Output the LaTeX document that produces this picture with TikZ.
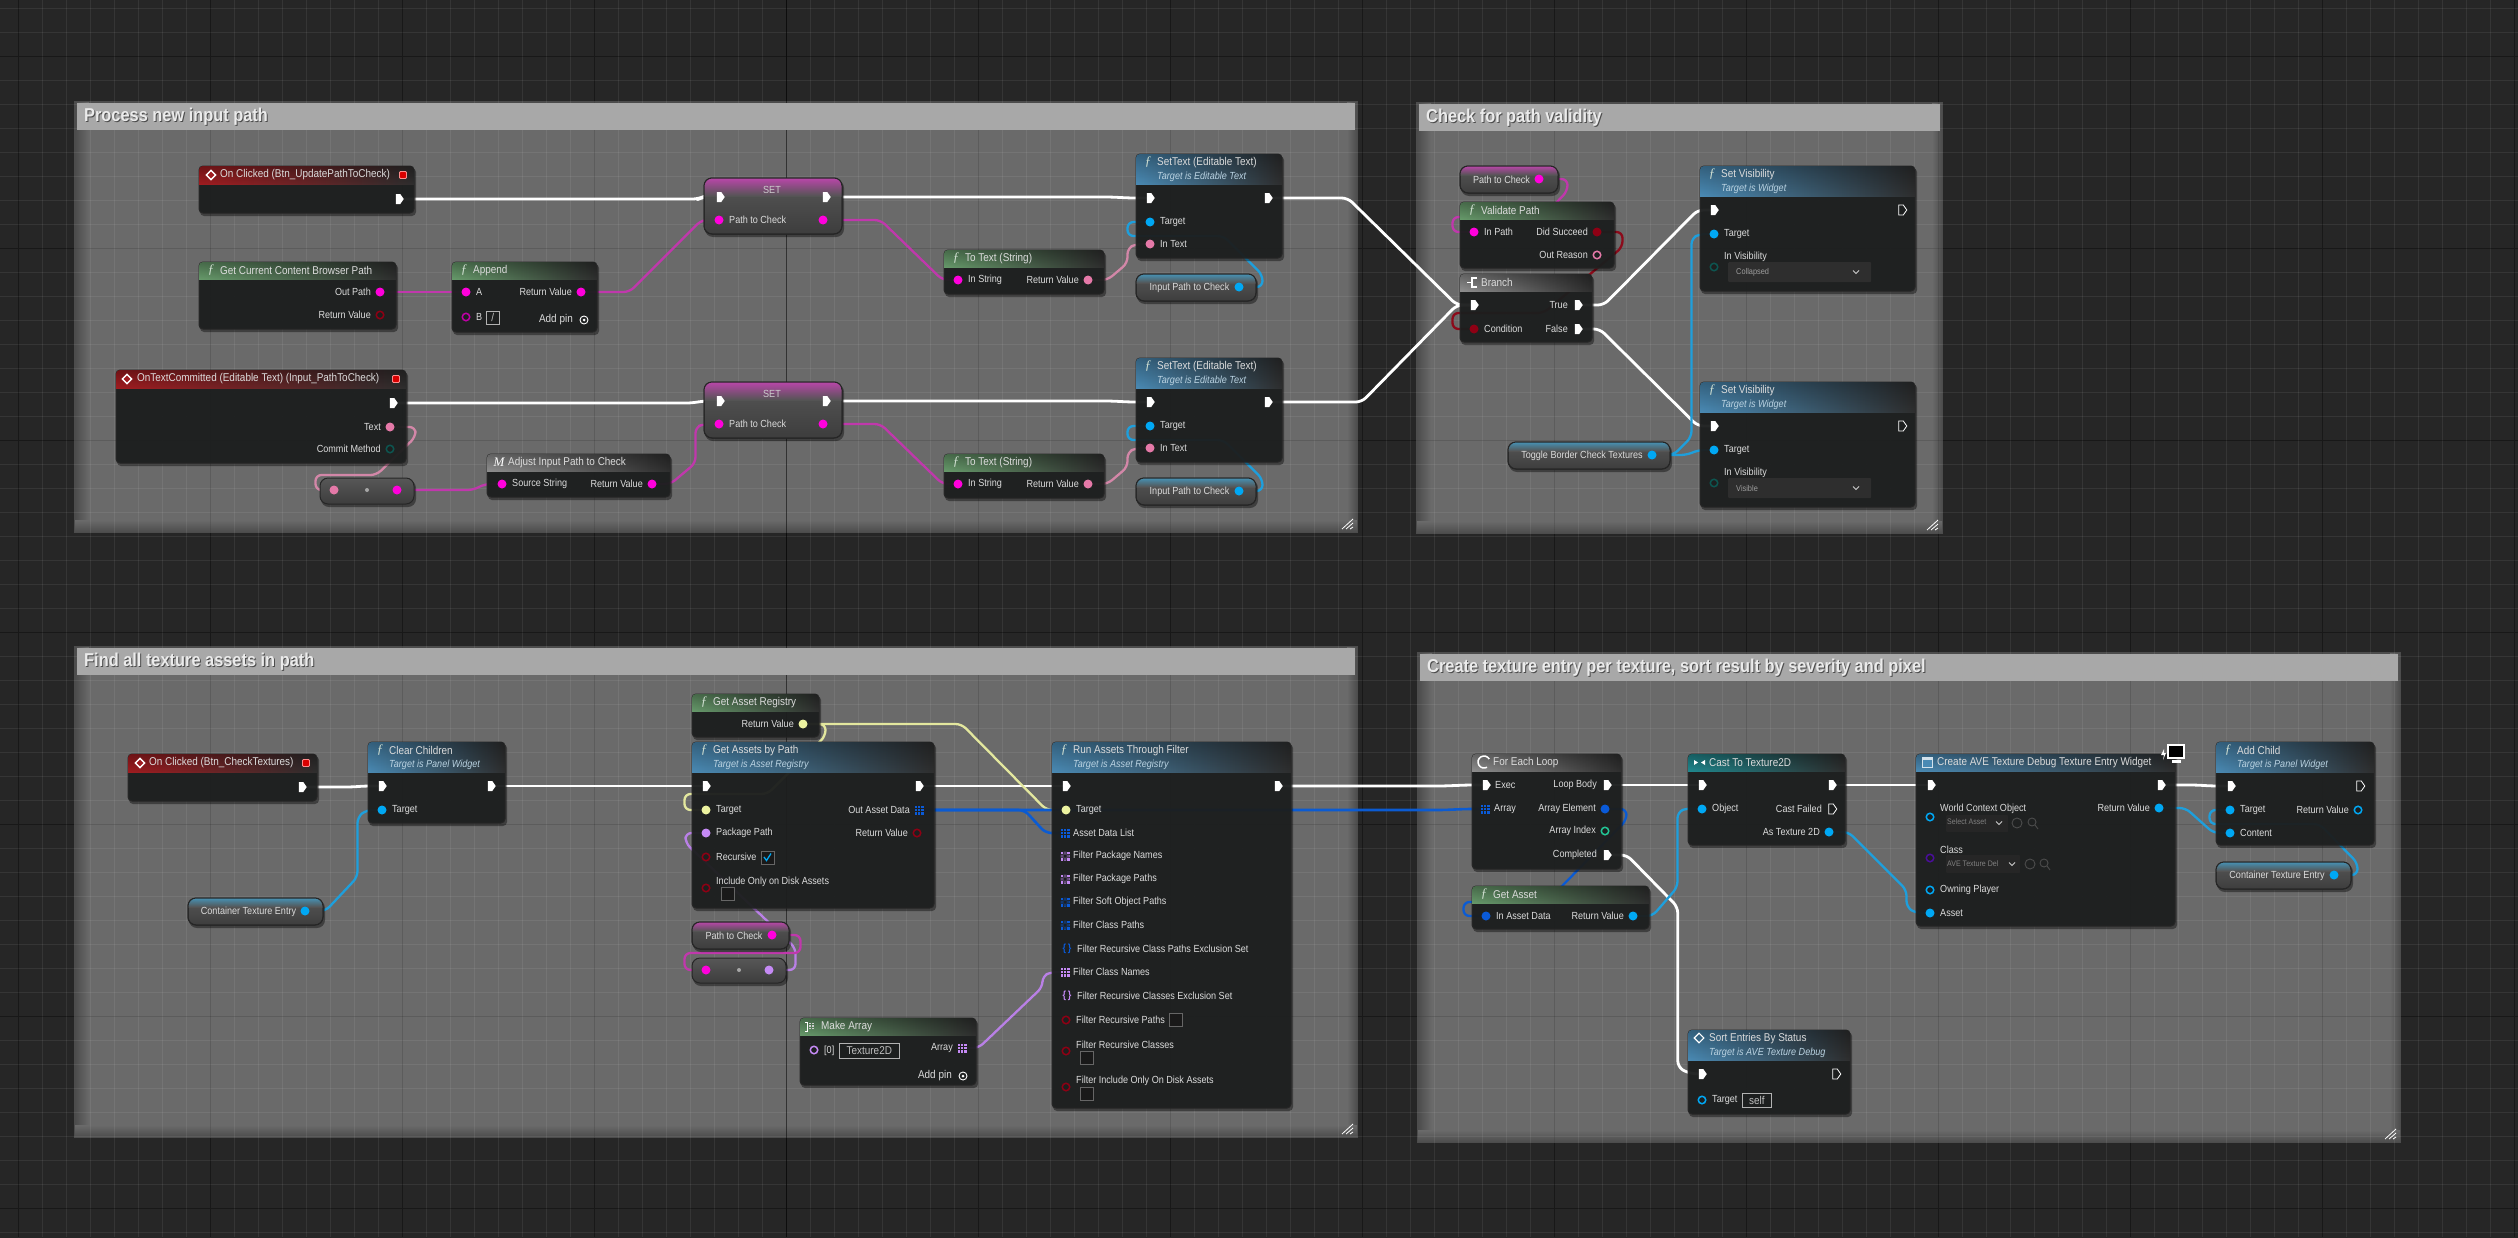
\documentclass[tikz,border=0pt]{standalone}
\usepackage{fontspec}
\usepackage{xcolor}
\usepackage{tikz}
\usetikzlibrary{calc,shapes.geometric,shapes.symbols,fadings}

\setmainfont[FakeStretch=.88]{Liberation Sans}
\newfontfamily\iconfont{Liberation Serif}
\newcommand{\lblfont}{\fontsize{10.3}{11}\selectfont}
\newcommand{\ttlfont}{\fontsize{11.3}{12}\selectfont}
\newcommand{\cmtfont}{\fontsize{18.6}{20}\selectfont\bfseries}

\definecolor{bgdark}{HTML}{262626}
\definecolor{cmtfill}{HTML}{6A6A6A}
\definecolor{cmtshade}{HTML}{4C4C4C}
\definecolor{cmtbar}{HTML}{A8A8A8}
\definecolor{nodebg}{HTML}{1D1F1F}
\definecolor{lbltxt}{HTML}{DCDCDC}
\definecolor{hdrred}{HTML}{A01C20}
\definecolor{hdrgreen}{HTML}{66996A}
\definecolor{hdrblue}{HTML}{4A8AB4}
\definecolor{hdrgray}{HTML}{8E8E8E}
\definecolor{hdrteal}{HTML}{1F888E}
\definecolor{pstr}{HTML}{FF00DC}
\definecolor{ptxt}{HTML}{E579A8}
\definecolor{pobj}{HTML}{00A8F4}
\definecolor{pstruct}{HTML}{0A5AD8}
\definecolor{pyel}{HTML}{EDF3A0}
\definecolor{ppur}{HTML}{C58AF5}
\definecolor{pbool}{HTML}{8E0014}
\definecolor{pteal}{HTML}{0D5550}
\definecolor{pgrn}{HTML}{22C596}
\definecolor{pclass}{HTML}{4A0E9A}
\definecolor{wstr}{HTML}{C038AC}
\definecolor{wtxt}{HTML}{D387A8}
\definecolor{wobj}{HTML}{1E9FDC}
\definecolor{wyel}{HTML}{E3E79E}
\definecolor{wpur}{HTML}{B980E6}
\definecolor{wbool}{HTML}{8C0A1A}
\definecolor{wstruct}{HTML}{0B5BD2}

\pgfdeclarelayer{backdrop}
\pgfdeclarelayer{wires}
\pgfsetlayers{backdrop,wires,main}

\tikzset{
    cmtbody/.style={fill=cmtfill, draw=cmtshade, line width=2, inner sep=0, outer sep=0, anchor=north west},
    cmttitle/.style={font=\cmtfont, text=#1, inner sep=0, anchor=west},
    bpbody/.style={fill=nodebg, fill opacity=.93, draw=black!85, line width=1, rounded corners=4, inner sep=0, outer sep=0, anchor=north west},
    bptitle/.style={font=\ttlfont, text=lbltxt, inner sep=0, anchor=west},
    bpsub/.style={font=\lblfont\itshape, text=white!62!hdrblue, inner sep=0, anchor=west},
    lbl/.style={font=\lblfont, text=lbltxt, inner sep=0},
    pin/.style={circle, fill=#1, minimum size=9, inner sep=0, outer sep=0},
    pinoff/.style={circle, draw=#1, fill=nodebg, line width=1.5, minimum size=7.5, inner sep=0, outer sep=0},
    execpin/.style={shape=signal, signal to=east, signal from=nowhere, signal pointer angle=110, fill=white, minimum width=8, minimum height=10, inner sep=0, outer sep=0},
    execoff/.style={execpin, fill=nodebg, draw=white, line width=.8},
    arrbase/.style={rectangle, fill=#1, minimum size=9, inner sep=0, outer sep=0},
    setpin/.style={font=\bfseries\lblfont, text=#1, inner sep=0},
    evicon/.style={diamond, draw=white, fill=hdrred, line width=1.4, minimum size=10, inner sep=0},
    closeicon/.style={rectangle, rounded corners=1, fill=red!85!black, draw=red!45!white, line width=.8, minimum size=7, inner sep=0},
    fnicon/.style={font=\iconfont\itshape\fontsize{13}{13}\selectfont, text=white!70!hdrgreen, inner sep=0},
    chkbox/.style={rectangle, fill=black!90, draw=black!60, line width=.6, minimum size=13, inner sep=0, anchor=north west},
    txtbox/.style={rectangle, draw=white!70!black, fill=nodebg, line width=.6, font=\ttlfont, text=white!75!black, inner sep=0, anchor=north west},
    dropbox/.style={rectangle, fill=black!82, rounded corners=1, inner sep=0, anchor=north west},
    addring/.style={circle, draw=white, line width=.9, minimum size=8, inner sep=0},
    convbody/.style={top color=black!66, bottom color=black!76, draw=black!85, line width=1, rounded corners=8, inner sep=0, outer sep=0, anchor=north west},
    wire/.style={line width=2.3, rounded corners=6, line join=round},
    execw/.style={wire, draw=white, line width=2.8},
    strw/.style={wire, draw=wstr},
    txtw/.style={wire, draw=wtxt},
    objw/.style={wire, draw=wobj},
    yelw/.style={wire, draw=wyel},
    purw/.style={wire, draw=wpur},
    boolw/.style={wire, draw=wbool},
    structw/.style={wire, draw=wstruct, line width=2.6},
}

\newcommand{\cmtbox}[5]{%
    \node (#1) [cmtbody, minimum width={#4-#2}, minimum height={#5-#3}] at (#2, #3) {};
    \shade[left color=cmtshade, right color=cmtfill] (#2, #3) rectangle (#2+14, #5);
    \shade[right color=cmtshade, left color=cmtfill] (#4-10, #3) rectangle (#4, #5);
    \shade[bottom color=cmtshade, top color=cmtfill] (#2, #5-12) rectangle (#4, #5);
}
\newcommand{\cmtbarline}[6]{%
    \fill[cmtbar] (#2+2, #3+1) rectangle (#4-2, #3+28);
    \node (#1s) [cmttitle=black!70] at (#2+10, #3+16) {#6};
    \node (#1t) [cmttitle=white!92!black] at (#2+9, #3+15) {#6};
    \draw[white, line width=.8] (#4-15, #5-3) -- (#4-4, #5-13) (#4-11, #5-3) -- (#4-4, #5-9) (#4-7, #5-3) -- (#4-4, #5-5);
}
\newcommand{\bpnode}[9]{%
    \fill[black, opacity=.4, rounded corners=4] (#2+1, #3+2) rectangle (#4+2, #5+3);
    \node (#1) [bpbody, minimum width={#4-#2}, minimum height={#5-#3}] at (#2, #3) {};
    \begin{scope}
        \clip[rounded corners=4] (#2, #3) rectangle (#4, #5);
        \shade[left color=#7, middle color=#7!62!black, right color=black!82] (#2, #3) rectangle (#4, #6);
        \fill[black, opacity=.3, path fading=south] (#2, #3) rectangle (#4, #6);
    \end{scope}
    \node (#1t) [bptitle] at (#2+21, #3+8.5) {#8};
    \node (#1s) [bpsub] at (#2+21, #3+23) {#9};
}
\newcommand{\inpin}[5]{%
    \node (#1) [#4] at (#2, #3) {};
    \node (#1l) [lbl, anchor=west] at (#2+10, #3) {#5};
}
\newcommand{\outpin}[5]{%
    \node (#1) [#4] at (#2, #3) {};
    \node (#1l) [lbl, anchor=east] at (#2-9, #3) {#5};
}
\newcommand{\arrpin}[4]{%
    \node (#1) [arrbase=#4] at (#2, #3) {};
    \draw[nodebg, line width=.6] (#2-1.5, #3-4.5) -- (#2-1.5, #3+4.5) (#2+1.5, #3-4.5) -- (#2+1.5, #3+4.5) (#2-4.5, #3-1.5) -- (#2+4.5, #3-1.5) (#2-4.5, #3+1.5) -- (#2+4.5, #3+1.5);
}
\newcommand{\arroff}[4]{%
    \arrpin{#1}{#2}{#3}{#4}
    \fill[nodebg] (#2-1.5, #3-1.5) rectangle (#2+1.5, #3+1.5);
    \fill[nodebg!60!#4] (#2-4.5, #3-1.5) rectangle (#2-1.5, #3+1.5) (#2+1.5, #3-1.5) rectangle (#2+4.5, #3+1.5) (#2-1.5, #3-4.5) rectangle (#2+1.5, #3-1.5) (#2-1.5, #3+1.5) rectangle (#2+1.5, #3+4.5);
}
\newcommand{\glowbody}[7]{%
    \fill[black, opacity=.4, rounded corners=8] (#2+1, #3+2) rectangle (#4+2, #5+3);
    \node (#1) [convbody, minimum width={#4-#2}, minimum height={#5-#3}] at (#2, #3) {};
    \begin{scope}
        \clip[rounded corners=8] (#2, #3) rectangle (#4, #5);
        \shade[top color=#6!45!gray, bottom color=black!67] (#2, #3) rectangle (#4, #3+#7);
    \end{scope}
    \draw[black!85, line width=1, rounded corners=8] (#2, #3) rectangle (#4, #5);
}
\newcommand{\varnode}[8]{%
    \glowbody{#1}{#2}{#3}{#4}{#5}{#6}{9}
    \node (#1l) [lbl] at ({(#2+#8)/2+2}, #3+13.5) {#7};
    \node (#1P) [pin=#6] at (#8, #3+13) {};
}
\newcommand{\setnode}[5]{%
    \glowbody{#1}{#2}{#3}{#4}{#5}{pstr}{18}
    \node (#1t) [lbl, text=white!80!black] at ({(#2+#4)/2-1}, #3+12) {SET};
    \node (#1In) [execpin] at (#2+15, #3+19) {};
    \node (#1Ex) [execpin] at (#4-17, #3+19) {};
    \inpin{#1Path}{#2+15}{#3+42}{pin=pstr}{Path to Check}
    \node (#1Out) [pin=pstr] at (#4-19, #3+42) {};
}
\newcommand{\convnode}[5]{%
    \fill[black, opacity=.4, rounded corners=8] (#2+1, #3+2) rectangle (#4+2, #5+3);
    \node (#1) [convbody, minimum width={#4-#2}, minimum height={#5-#3}] at (#2, #3) {};
    \node (#1d) [circle, fill=white!65!black, minimum size=4, inner sep=0] at ({(#2+#4)/2}, #3+12) {};
}
\newcommand{\addpin}[3]{%
    \node (#1l) [bptitle, anchor=east] at (#2-11, #3) {Add pin};
    \node (#1) [addring] at (#2, #3) {};
    \fill[white] (#2, #3) circle[radius=1.5];
}
\newcommand{\wire}[5][]{%
    \draw[#1] (#2.east) -- ++(#4, 0) -- ($(#3.west)+(-#5, 0)$) -- (#3.west);
}
\newcommand{\chevron}[2]{%
    \draw[white!80!black, line width=.9] (#1-3, #2-1.5) -- (#1, #2+1.5) -- (#1+3, #2-1.5);
}

\begin{document}
\begin{tikzpicture}[x=1pt, y=-1pt]
    \useasboundingbox (0, 0) rectangle (2518, 1237);

    \begin{pgfonlayer}{backdrop}
        \fill[bgdark] (-5, -5) rectangle (2523, 1242);
        \foreach \gx in {0,...,13}
            \draw[black, opacity=.6, line width=1] ({18+192*\gx}, 0) -- ({18+192*\gx}, 1237);
        \foreach \gy in {0,...,6}
            \draw[black, opacity=.6, line width=1] (0, {56+192*\gy}) -- (2518, {56+192*\gy});

        \cmtbox{cmtInput}{75}{102}{1357}{532}
        \cmtbox{cmtValid}{1417}{103}{1942}{533}
        \cmtbox{cmtAssets}{75}{647}{1357}{1137}
        \cmtbox{cmtEntry}{1418}{653}{2400}{1142}

        \foreach \gx in {0,...,104}
            \draw[white, opacity=.07, line width=1] ({18+24*\gx}, 0) -- ({18+24*\gx}, 1237);
        \foreach \gy in {0,...,51}
            \draw[white, opacity=.07, line width=1] (0, {8+24*\gy}) -- (2518, {8+24*\gy});
        \foreach \gx in {0,...,13}
            \draw[black, opacity=.2, line width=1] ({18+192*\gx}, 0) -- ({18+192*\gx}, 1237);
        \foreach \gy in {0,...,6}
            \draw[black, opacity=.2, line width=1] (0, {56+192*\gy}) -- (2518, {56+192*\gy});
        \draw[black, opacity=.45, line width=1] (786, 0) -- (786, 1237);

        \cmtbarline{cmtInputB}{75}{102}{1357}{532}{Process new input path}
        \cmtbarline{cmtValidB}{1417}{103}{1942}{533}{Check for path validity}
        \cmtbarline{cmtAssetsB}{75}{647}{1357}{1137}{Find all texture assets in path}
        \cmtbarline{cmtEntryB}{1418}{653}{2400}{1142}{Create texture entry per texture, sort result by severity and pixel}
    \end{pgfonlayer}

    % process new input path
    \bpnode{evUpdate}{199}{166}{414}{213}{184}{hdrred}{On Clicked (Btn\_UpdatePathToCheck)}{}
    \node (evUpdateI) [evicon] at (211, 175) {};
    \node (evUpdateC) [closeicon] at (403, 175) {};
    \node (evUpdateOut) [execpin] at (398, 199) {};

    \bpnode{getPath}{199}{262}{396}{329}{279}{hdrgreen}{Get Current Content Browser Path}{}
    \node (getPathI) [fnicon] at (211, 270) {ƒ};
    \outpin{getPathOut}{380}{292}{pin=pstr}{Out Path}
    \outpin{getPathRet}{380}{315}{pinoff=pbool}{Return Value}

    \bpnode{append}{452}{262}{597}{332}{279}{hdrgreen}{Append}{}
    \node (appendI) [fnicon] at (464, 270) {ƒ};
    \inpin{appendA}{466}{292}{pin=pstr}{A}
    \outpin{appendRet}{581}{292}{pin=pstr}{Return Value}
    \inpin{appendB}{466}{317}{pinoff=pstr!75!black}{B}
    \node (appendBox) [txtbox, minimum width=13, minimum height=13] at (486, 311) {/};
    \addpin{appendAdd}{584}{320}

    \bpnode{evText}{116}{370}{406}{463}{388}{hdrred}{OnTextCommitted (Editable Text) (Input\_PathToCheck)}{}
    \node (evTextI) [evicon] at (127, 379) {};
    \node (evTextC) [closeicon] at (396, 379) {};
    \node (evTextOut) [execpin] at (392, 403) {};
    \outpin{evTextText}{390}{427}{pin=ptxt}{Text}
    \outpin{evTextMethod}{390}{449}{pinoff=pteal}{Commit Method}

    \convnode{convA}{320}{478}{414}{504}
    \node (convAIn) [pin=ptxt] at (334, 490) {};
    \node (convAOut) [pin=pstr] at (397, 490) {};

    \bpnode{adjust}{487}{454}{670}{497}{471}{hdrgray}{Adjust Input Path to Check}{}
    \node (adjustI) [fnicon, text=white] at (499, 462) {M};
    \inpin{adjustIn}{502}{484}{pin=pstr}{Source String}
    \outpin{adjustRet}{652}{484}{pin=pstr}{Return Value}

    \setnode{setA}{704}{178}{842}{234}
    \setnode{setB}{704}{382}{842}{438}

    \bpnode{toTextA}{944}{250}{1104}{294}{267}{hdrgreen}{To Text (String)}{}
    \node (toTextAI) [fnicon] at (956, 258) {ƒ};
    \inpin{toTextAIn}{958}{280}{pin=pstr}{In String}
    \outpin{toTextARet}{1088}{280}{pin=ptxt}{Return Value}
    \bpnode{toTextB}{944}{454}{1104}{498}{471}{hdrgreen}{To Text (String)}{}
    \node (toTextBI) [fnicon] at (956, 462) {ƒ};
    \inpin{toTextBIn}{958}{484}{pin=pstr}{In String}
    \outpin{toTextBRet}{1088}{484}{pin=ptxt}{Return Value}

    \bpnode{setTextA}{1136}{154}{1282}{258}{184}{hdrblue}{SetText (Editable Text)}{Target is Editable Text}
    \node (setTextAI) [fnicon] at (1148, 162) {ƒ};
    \node (setTextAIn) [execpin] at (1149, 198) {};
    \node (setTextAOut) [execpin] at (1267, 198) {};
    \inpin{setTextATarget}{1150}{222}{pin=pobj}{Target}
    \inpin{setTextAText}{1150}{244}{pin=ptxt}{In Text}
    \bpnode{setTextB}{1136}{358}{1282}{462}{388}{hdrblue}{SetText (Editable Text)}{Target is Editable Text}
    \node (setTextBI) [fnicon] at (1148, 366) {ƒ};
    \node (setTextBIn) [execpin] at (1149, 402) {};
    \node (setTextBOut) [execpin] at (1267, 402) {};
    \inpin{setTextBTarget}{1150}{426}{pin=pobj}{Target}
    \inpin{setTextBText}{1150}{448}{pin=ptxt}{In Text}

    \varnode{inputA}{1136}{274}{1256}{301}{pobj}{Input Path to Check}{1239}
    \varnode{inputB}{1136}{478}{1256}{505}{pobj}{Input Path to Check}{1239}

    % check for path validity
    \varnode{varCheck}{1460}{166}{1558}{193}{pstr}{Path to Check}{1539}

    \bpnode{valid}{1460}{202}{1614}{268}{219}{hdrgreen}{Validate Path}{}
    \node (validI) [fnicon] at (1472, 210) {ƒ};
    \inpin{validIn}{1474}{232}{pin=pstr}{In Path}
    \outpin{validOk}{1597}{232}{pin=pbool}{Did Succeed}
    \outpin{validWhy}{1597}{255}{pinoff=ptxt}{Out Reason}

    \bpnode{branch}{1460}{274}{1592}{342}{291}{hdrgray}{Branch}{}
    \draw[white, line width=1.2] (1467, 282.5) -- (1472, 282.5) (1477, 278) -- (1472, 278) -- (1472, 287) -- (1477, 287);
    \node (branchIn) [execpin] at (1473, 305) {};
    \outpin{branchTrue}{1577}{305}{execpin}{True}
    \inpin{branchCond}{1474}{329}{pin=pbool}{Condition}
    \outpin{branchFalse}{1577}{329}{execpin}{False}

    \bpnode{visA}{1700}{166}{1915}{291}{196}{hdrblue}{Set Visibility}{Target is Widget}
    \node (visAI) [fnicon] at (1712, 174) {ƒ};
    \node (visAIn) [execpin] at (1713, 210) {};
    \node (visAOut) [execoff] at (1901, 210) {};
    \inpin{visATarget}{1714}{234}{pin=pobj}{Target}
    \node (visAVis) [pinoff=pteal] at (1714, 267) {};
    \node (visAVisl) [lbl, anchor=west] at (1724, 257) {In Visibility};
    \node (visABox) [dropbox, minimum width=143, minimum height=20] at (1728, 262) {};
    \node (visAText) [lbl, font=\fontsize{8.4}{9}\selectfont, text=white!62!black, anchor=west] at (1736, 272) {Collapsed};
    \chevron{1856}{272}

    \bpnode{visB}{1700}{382}{1915}{507}{412}{hdrblue}{Set Visibility}{Target is Widget}
    \node (visBI) [fnicon] at (1712, 390) {ƒ};
    \node (visBIn) [execpin] at (1713, 426) {};
    \node (visBOut) [execoff] at (1901, 426) {};
    \inpin{visBTarget}{1714}{450}{pin=pobj}{Target}
    \node (visBVis) [pinoff=pteal] at (1714, 483) {};
    \node (visBVisl) [lbl, anchor=west] at (1724, 473) {In Visibility};
    \node (visBBox) [dropbox, minimum width=143, minimum height=20] at (1728, 478) {};
    \node (visBText) [lbl, font=\fontsize{8.4}{9}\selectfont, text=white!62!black, anchor=west] at (1736, 488) {Visible};
    \chevron{1856}{488}

    \varnode{toggle}{1508}{442}{1670}{469}{pobj}{Toggle Border Check Textures}{1652}

    % find all texture assets in path
    \bpnode{evCheck}{128}{754}{317}{801}{772}{hdrred}{On Clicked (Btn\_CheckTextures)}{}
    \node (evCheckI) [evicon] at (140, 763) {};
    \node (evCheckC) [closeicon] at (306, 763) {};
    \node (evCheckOut) [execpin] at (301, 787) {};

    \bpnode{clear}{368}{742}{505}{823}{772}{hdrblue}{Clear Children}{Target is Panel Widget}
    \node (clearI) [fnicon] at (380, 750) {ƒ};
    \node (clearIn) [execpin] at (381, 786) {};
    \node (clearOut) [execpin] at (490, 786) {};
    \inpin{clearTarget}{382}{810}{pin=pobj}{Target}

    \varnode{varEntryA}{188}{898}{323}{925}{pobj}{Container Texture Entry}{305}

    \bpnode{registry}{692}{694}{819}{737}{711}{hdrgreen}{Get Asset Registry}{}
    \node (registryI) [fnicon] at (704, 702) {ƒ};
    \outpin{registryRet}{803}{724}{pin=pyel}{Return Value}

    \bpnode{assets}{692}{742}{934}{908}{772}{hdrblue}{Get Assets by Path}{Target is Asset Registry}
    \node (assetsI) [fnicon] at (704, 750) {ƒ};
    \node (assetsIn) [execpin] at (705, 786) {};
    \node (assetsOut) [execpin] at (918, 786) {};
    \inpin{assetsTarget}{706}{810}{pin=pyel}{Target}
    \inpin{assetsPath}{706}{833}{pin=ppur}{Package Path}
    \inpin{assetsRec}{706}{857}{pinoff=pbool}{Recursive}
    \node (assetsRecBox) [chkbox] at (761, 851) {};
    \draw[pobj, line width=1.3] (764, 857) -- (766.5, 860.5) -- (771, 853.5);
    \node (assetsDisk) [pinoff=pbool] at (706, 888) {};
    \node (assetsDiskl) [lbl, anchor=west] at (716, 882) {Include Only on Disk Assets};
    \node (assetsDiskBox) [chkbox] at (721, 887) {};
    \arrpin{assetsData}{919}{810}{pstruct}
    \node (assetsDatal) [lbl, anchor=east] at (910, 810) {Out Asset Data};
    \outpin{assetsRet}{917}{833}{pinoff=pbool}{Return Value}

    \varnode{varPath}{692}{922}{789}{949}{pstr}{Path to Check}{772}
    \convnode{convB}{692}{958}{786}{983}
    \node (convBIn) [pin=pstr] at (706, 970) {};
    \node (convBOut) [pin=ppur] at (769, 970) {};

    \bpnode{make}{800}{1018}{976}{1085}{1035}{hdrgreen}{Make Array}{}
    \draw[white, line width=1] (805, 1022) -- (807, 1022) -- (807, 1031) -- (805, 1031);
    \draw[white!80!black, line width=2, dash pattern=on 1.4 off 1] (810, 1023) -- (810, 1030) (813, 1023) -- (813, 1030);
    \node (makeIn) [pinoff=ppur] at (814, 1050) {};
    \node (makeInl) [lbl, anchor=west] at (824, 1051) {[0]};
    \node (makeBox) [txtbox, minimum width=60, minimum height=15] at (839, 1043) {Texture2D};
    \arrpin{makeOut}{962}{1048}{ppur}
    \node (makeOutl) [lbl, anchor=east] at (953, 1048) {Array};
    \addpin{makeAdd}{963}{1076}

    \bpnode{run}{1052}{742}{1291}{1108}{772}{hdrblue}{Run Assets Through Filter}{Target is Asset Registry}
    \node (runI) [fnicon] at (1064, 750) {ƒ};
    \node (runIn) [execpin] at (1065, 786) {};
    \node (runOut) [execpin] at (1277, 786) {};
    \inpin{runTarget}{1066}{810}{pin=pyel}{Target}
    \arrpin{runList}{1065}{833}{pstruct}
    \node (runListl) [lbl, anchor=west] at (1073, 833) {Asset Data List};
    \arroff{runPkgNames}{1065}{856}{ppur}
    \node (runPkgNamesl) [lbl, anchor=west] at (1073, 856) {Filter Package Names};
    \arroff{runPkgPaths}{1065}{879}{ppur}
    \node (runPkgPathsl) [lbl, anchor=west] at (1073, 879) {Filter Package Paths};
    \arroff{runSoftPaths}{1065}{902}{pstruct}
    \node (runSoftPathsl) [lbl, anchor=west] at (1073, 902) {Filter Soft Object Paths};
    \arroff{runClassPaths}{1065}{925}{pstruct}
    \node (runClassPathsl) [lbl, anchor=west] at (1073, 925) {Filter Class Paths};
    \node (runSetPaths) [setpin=pstruct] at (1067, 949) {\{\,\}};
    \node (runSetPathsl) [lbl, anchor=west] at (1077, 949) {Filter Recursive Class Paths Exclusion Set};
    \arrpin{runClassNames}{1065}{972}{ppur}
    \node (runClassNamesl) [lbl, anchor=west] at (1073, 972) {Filter Class Names};
    \node (runSetClass) [setpin=ppur] at (1067, 996) {\{\,\}};
    \node (runSetClassl) [lbl, anchor=west] at (1077, 996) {Filter Recursive Classes Exclusion Set};
    \inpin{runRecPaths}{1066}{1020}{pinoff=pbool}{Filter Recursive Paths}
    \node (runRecPathsBox) [chkbox] at (1169, 1013) {};
    \node (runRecClass) [pinoff=pbool] at (1066, 1051) {};
    \node (runRecClassl) [lbl, anchor=west] at (1076, 1045) {Filter Recursive Classes};
    \node (runRecClassBox) [chkbox] at (1080, 1051) {};
    \node (runDisk) [pinoff=pbool] at (1066, 1087) {};
    \node (runDiskl) [lbl, anchor=west] at (1076, 1081) {Filter Include Only On Disk Assets};
    \node (runDiskBox) [chkbox] at (1080, 1087) {};

    % create texture entry per texture
    \bpnode{loop}{1472}{754}{1621}{869}{771}{hdrgray}{For Each Loop}{}
    \draw[white, line width=1.5] (1487, 767.2) arc[start angle=60, end angle=330, radius=6];
    \inpin{loopIn}{1485}{785}{execpin}{Exec}
    \arrpin{loopArray}{1485}{809}{pstruct}
    \node (loopArrayl) [lbl, anchor=west] at (1494, 809) {Array};
    \outpin{loopBody}{1606}{785}{execpin}{Loop Body}
    \outpin{loopElem}{1605}{809}{pin=pstruct}{Array Element}
    \outpin{loopIndex}{1605}{831}{pinoff=pgrn}{Array Index}
    \outpin{loopDone}{1606}{855}{execpin}{Completed}

    \bpnode{getAsset}{1472}{886}{1649}{929}{903}{hdrgreen}{Get Asset}{}
    \node (getAssetI) [fnicon] at (1484, 894) {ƒ};
    \inpin{getAssetIn}{1486}{916}{pin=pstruct}{In Asset Data}
    \outpin{getAssetRet}{1633}{916}{pin=pobj}{Return Value}

    \bpnode{cast}{1688}{754}{1845}{845}{771}{hdrteal}{Cast To Texture2D}{}
    \fill[white] (1694, 760) -- (1698, 762.5) -- (1694, 765) -- cycle (1705, 760) -- (1701, 762.5) -- (1705, 765) -- cycle;
    \node (castIn) [execpin] at (1701, 785) {};
    \node (castOut) [execpin] at (1831, 785) {};
    \inpin{castObj}{1702}{809}{pin=pobj}{Object}
    \outpin{castFail}{1831}{809}{execoff}{Cast Failed}
    \outpin{castTex}{1829}{832}{pin=pobj}{As Texture 2D}

    \bpnode{sort}{1688}{1030}{1850}{1114}{1060}{hdrblue}{Sort Entries By Status}{Target is AVE Texture Debug}
    \node (sortI) [evicon, fill=none, line width=1.1] at (1699, 1038) {};
    \node (sortIn) [execpin] at (1701, 1074) {};
    \node (sortOut) [execoff] at (1835, 1074) {};
    \inpin{sortTarget}{1702}{1100}{pinoff=pobj}{Target}
    \node (sortBox) [txtbox, minimum width=29, minimum height=14] at (1742, 1093) {self};

    \bpnode{create}{1916}{754}{2175}{926}{771}{hdrblue}{Create AVE Texture Debug Texture Entry Widget}{}
    \fill[white!75!hdrblue] (1922, 757) rectangle (1933, 768);
    \fill[hdrblue] (1923, 760) rectangle (1932, 767);
    \node (createIn) [execpin] at (1930, 785) {};
    \node (createOut) [execpin] at (2160, 785) {};
    \node (createWorld) [pinoff=pobj] at (1930, 817) {};
    \node (createWorldl) [lbl, anchor=west] at (1940, 809) {World Context Object};
    \node (createWorldBox) [dropbox, fill=white!15!black, minimum width=62, minimum height=17] at (1946, 815) {};
    \node (createWorldText) [lbl, font=\fontsize{8}{9}\selectfont, text=white!50!black, anchor=west] at (1947, 822) {Select Asset};
    \chevron{1999}{823}
    \draw[white!30!black, line width=.9] (2017, 823) circle[radius=5] (2032, 822) circle[radius=4] (2035, 825) -- (2038, 829);
    \node (createClass) [pinoff=pclass] at (1930, 858) {};
    \node (createClassl) [lbl, anchor=west] at (1940, 850) {Class};
    \node (createClassBox) [dropbox, fill=white!15!black, minimum width=74, minimum height=18] at (1946, 855) {};
    \node (createClassText) [lbl, font=\fontsize{8}{9}\selectfont, text=white!50!black, anchor=west] at (1947, 864) {AVE Texture Del};
    \chevron{2012}{864}
    \draw[white!30!black, line width=.9] (2030, 864) circle[radius=5] (2044, 863) circle[radius=4] (2047, 866) -- (2050, 870);
    \inpin{createOwner}{1930}{890}{pinoff=pobj}{Owning Player}
    \inpin{createAsset}{1930}{913}{pin=pobj}{Asset}
    \outpin{createRet}{2159}{808}{pin=pobj}{Return Value}
    \draw[white, line width=1.2, fill=black] (2168, 745) rectangle (2184, 758);
    \fill[white] (2172, 760) rectangle (2181, 763);
    \fill[white] (2164, 749) -- (2161, 755) -- (2164, 755) -- (2163, 760) -- (2166, 753) -- (2164, 753) -- cycle;

    \bpnode{addChild}{2216}{742}{2374}{845}{772}{hdrblue}{Add Child}{Target is Panel Widget}
    \node (addChildI) [fnicon] at (2228, 750) {ƒ};
    \node (addChildIn) [execpin] at (2230, 786) {};
    \node (addChildOut) [execoff] at (2359, 786) {};
    \inpin{addChildTarget}{2230}{810}{pin=pobj}{Target}
    \inpin{addChildContent}{2230}{833}{pin=pobj}{Content}
    \outpin{addChildRet}{2358}{810}{pinoff=pobj}{Return Value}

    \varnode{varEntryB}{2216}{862}{2351}{889}{pobj}{Container Texture Entry}{2334}

    \begin{pgfonlayer}{wires}
        \wire[execw]{evUpdateOut}{setAIn}{295}{14}
        \wire[execw]{evTextOut}{setBIn}{295}{14}
        \wire[strw]{getPathOut}{appendA}{10}{10}
        \wire[strw]{appendRet}{setAPath}{44}{13}
        \wire[strw]{setAOut}{toTextAIn}{53}{11}
        \wire[strw]{setBOut}{toTextBIn}{53}{11}
        \wire[execw]{setAEx}{setTextAIn}{280}{17}
        \wire[execw]{setBEx}{setTextBIn}{280}{17}
        \draw[txtw] (toTextARet.east) -- ++(15, 0) -- ++(20, -17) -- ++(0, -15) -- ++(9, -4) -- (setTextAText.west);
        \draw[txtw] (toTextBRet.east) -- ++(15, 0) -- ++(20, -17) -- ++(0, -15) -- ++(9, -4) -- (setTextBText.west);
        \draw[objw] (inputAP.east) -- ++(19, 0) -- ++(0, -12) -- ++(-39, -39) -- ++(-96, 0) -- ++(0, -14) -- (setTextATarget.west);
        \draw[objw] (inputBP.east) -- ++(19, 0) -- ++(0, -12) -- ++(-39, -39) -- ++(-96, 0) -- ++(0, -14) -- (setTextBTarget.west);
        \draw[txtw] (evTextText.east) -- ++(21, 0) -- ++(0, 10) -- ++(-39, 38) -- ++(-61, 0) -- ++(0, 15) -- (convAIn.west);
        \wire[strw]{convAOut}{adjustIn}{72}{13}
        \draw[strw] (adjustRet.east) -- ++(14, 0) -- ++(25, -21) -- ++(0, -36) -- ++(9, -3) -- (setBPath.west);

        \draw[execw] (setTextAOut.east) -- ++(75, 0) -- ++(109, 107) -- (branchIn.west);
        \draw[execw] (setTextBOut.east) -- ++(89, 0) -- ++(95, -97) -- (branchIn.west);

        \draw[strw] (varCheckP.east) -- ++(24, 0) -- ++(0, 12) -- ++(-25, 26) -- ++(-90, 0) -- ++(0, 15) -- (validIn.west);
        \draw[boolw] (validOk.east) -- ++(21, 0) -- ++(0, 15) -- ++(-79, 66) -- ++(-91, 0) -- ++(0, 16) -- (branchCond.west);
        \draw[execw] (branchTrue.east) -- ++(21, 0) -- ++(94, -95) -- (visAIn.west);
        \draw[execw] (branchFalse.east) -- ++(17, 0) -- ++(98, 97) -- (visBIn.west);
        \draw[objw] (toggleP.east) -- ++(17, 0) -- ++(18, -18) -- ++(0, -199) -- ++(9, -4) -- (visATarget.west);
        \draw[objw] (toggleP.east) -- ++(30, 0) -- ++(12, -5) -- (visBTarget.west);

        \wire[execw]{evCheckOut}{clearIn}{45}{14}
        \draw[objw] (varEntryAP.east) -- ++(16, 0) -- ++(32, -34) -- ++(0, -60) -- ++(9, -7) -- (clearTarget.west);
        \wire[execw]{clearOut}{assetsIn}{100}{80}
        \wire[execw]{assetsOut}{runIn}{60}{60}
        \draw[yelw] (registryRet.east) -- ++(18, 0) -- ++(0, 12) -- ++(-58, 58) -- ++(-83, 0) -- ++(0, 16) -- (assetsTarget.west);
        \wire[yelw]{registryRet}{runTarget}{154}{15}
        \wire[structw]{assetsData}{runList}{101}{15}
        \wire[structw]{assetsData}{loopArray}{520}{15}
        \draw[purw] (convBOut.east) -- ++(22, 0) -- ++(0, -22) -- ++(-110, -105) -- ++(0, -10) -- (assetsPath.west);
        \draw[strw] (varPathP.east) -- ++(24, 0) -- ++(0, 18) -- ++(-116, 0) -- ++(0, 17) -- (convBIn.west);
        \draw[purw] (makeOut.east) -- ++(12, 0) -- ++(64, -61) -- ++(0, -11) -- ++(9, -4) -- (runClassNames.west);
        \wire[execw]{runOut}{loopIn}{160}{15}

        \wire[execw]{loopBody}{castIn}{40}{20}
        \wire[execw]{castOut}{createIn}{40}{20}
        \wire[execw]{createOut}{addChildIn}{30}{15}
        \draw[execw] (loopDone.east) -- ++(15, 0) -- ++(51, 52) -- ++(0, 160) -- ++(10, 6) -- (sortIn.west);
        \draw[wire, draw=wstruct] (loopElem.east) -- ++(17, 0) -- ++(0, 11) -- ++(-80, 82) -- ++(-83, 0) -- ++(0, 14) -- (getAssetIn.west);
        \draw[objw] (getAssetRet.east) -- ++(15, 0) -- ++(25, -29) -- ++(0, -75) -- ++(10, -4) -- (castObj.west);
        \draw[objw] (castTex.east) -- ++(15, 0) -- ++(58, 58) -- ++(0, 17) -- ++(9, 6) -- (createAsset.west);
        \wire[objw]{createRet}{addChildContent}{22}{12}
        \draw[objw] (varEntryBP.east) -- ++(19, 0) -- ++(0, -12) -- ++(-38, -39) -- ++(-110, 0) -- ++(0, -14) -- (addChildTarget.west);
    \end{pgfonlayer}
\end{tikzpicture}
\end{document}
